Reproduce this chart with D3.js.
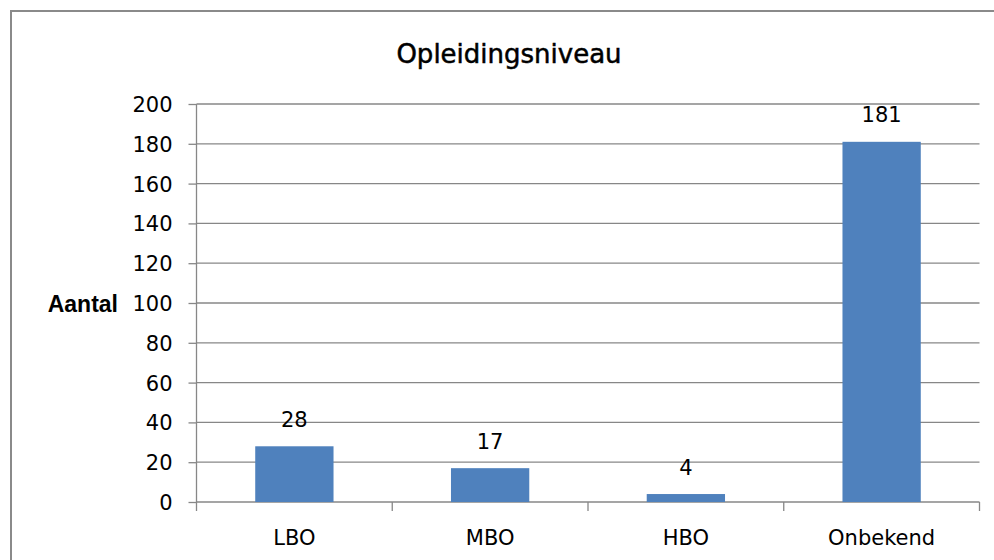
<!DOCTYPE html>
<html>
<head>
<meta charset="utf-8">
<title>Opleidingsniveau</title>
<script src="https://cdn.jsdelivr.net/npm/d3@7"></script>
<style>
  html, body { margin: 0; padding: 0; background: #fff; }
  svg { display: block; }
</style>
</head>
<body>
<svg id="chart"></svg>
<script>
// Data
const categories = ['LBO', 'MBO', 'HBO', 'Onbekend'];
const values = [28, 17, 4, 181];
const yTicks = [0, 20, 40, 60, 80, 100, 120, 140, 160, 180, 200];
const title = 'Opleidingsniveau';
const yLabel = 'Aantal';

const width = 994;
const height = 560;

const plotLeft = 196.5;
const plotRight = 979.5;
const plotTop = 104;
const plotBottom = 502;

const svg = d3.select('#chart').attr('width', width).attr('height', height);

// outer frame (right/bottom edges fall outside the picture)
svg.append('rect')
  .attr('x', 11)
  .attr('y', 11)
  .attr('width', 1100)
  .attr('height', 700)
  .attr('fill', 'none')
  .attr('stroke', '#8a8a8a')
  .attr('stroke-width', 2);

const x = d3.scaleBand().domain(categories).range([plotLeft, plotRight]).padding(0);
const y = d3.scaleLinear().domain([0, 200]).range([plotBottom, plotTop]);

// gridlines
svg.append('g')
  .selectAll('line')
  .data(yTicks)
  .enter()
  .append('line')
  .attr('x1', plotLeft)
  .attr('x2', plotRight)
  .attr('y1', (d) => y(d))
  .attr('y2', (d) => y(d))
  .attr('stroke', '#878787')
  .attr('stroke-width', 1.3);

// y axis
const yAxis = svg.append('g')
  .attr('transform', `translate(${plotLeft},0)`)
  .call(d3.axisLeft(y).tickValues(yTicks).tickSize(8).tickPadding(16).tickSizeOuter(0));
yAxis.select('.domain').remove();
yAxis.selectAll('.tick line').attr('stroke', '#878787').attr('stroke-width', 1.3);
yAxis.selectAll('.tick text')
  .attr('font-family', 'DejaVu Sans')
  .attr('font-size', 21)
  .attr('fill', '#000')
  .attr('dy', '0.36em');

// vertical axis line, hanging down to the category tick length
svg.append('line')
  .attr('x1', plotLeft)
  .attr('x2', plotLeft)
  .attr('y1', plotTop)
  .attr('y2', plotBottom + 9)
  .attr('stroke', '#878787')
  .attr('stroke-width', 1.3);

// category boundary ticks
const boundaries = categories.map((c) => x(c)).concat([plotRight]);
svg.append('g')
  .selectAll('line')
  .data(boundaries.slice(1))
  .enter()
  .append('line')
  .attr('x1', (d) => d)
  .attr('x2', (d) => d)
  .attr('y1', plotBottom)
  .attr('y2', plotBottom + 9)
  .attr('stroke', '#878787')
  .attr('stroke-width', 1.3);

// bars
const barWidth = x.bandwidth() * 0.4;
svg.append('g')
  .selectAll('rect')
  .data(values)
  .enter()
  .append('rect')
  .attr('x', (d, i) => x(categories[i]) + x.bandwidth() / 2 - barWidth / 2)
  .attr('y', (d) => y(d))
  .attr('width', barWidth)
  .attr('height', (d) => y(0) - y(d))
  .attr('fill', '#4f81bd');

// value labels
svg.append('g')
  .selectAll('text')
  .data(values)
  .enter()
  .append('text')
  .attr('x', (d, i) => x(categories[i]) + x.bandwidth() / 2)
  .attr('y', (d) => y(d) - 19.5)
  .attr('text-anchor', 'middle')
  .attr('font-family', 'DejaVu Sans')
  .attr('font-size', 21)
  .attr('fill', '#000')
  .text((d) => d);

// category labels
svg.append('g')
  .selectAll('text')
  .data(categories)
  .enter()
  .append('text')
  .attr('x', (d) => x(d) + x.bandwidth() / 2)
  .attr('y', plotBottom + 43)
  .attr('text-anchor', 'middle')
  .attr('font-family', 'DejaVu Sans')
  .attr('font-size', 21)
  .attr('fill', '#000')
  .text((d) => d);

// title
svg.append('text')
  .attr('x', 509)
  .attr('y', 63)
  .attr('text-anchor', 'middle')
  .attr('font-family', 'DejaVu Sans')
  .attr('font-size', 26)
  .attr('fill', '#000')
  .attr('stroke', '#000')
  .attr('stroke-width', 0.5)
  .text(title);

// y axis label
svg.append('text')
  .attr('x', 118)
  .attr('y', y(100) + 8.5)
  .attr('text-anchor', 'end')
  .attr('font-family', 'Liberation Sans')
  .attr('font-weight', 'bold')
  .attr('font-size', 23)
  .attr('fill', '#000')
  .text(yLabel);
</script>
</body>
</html>
